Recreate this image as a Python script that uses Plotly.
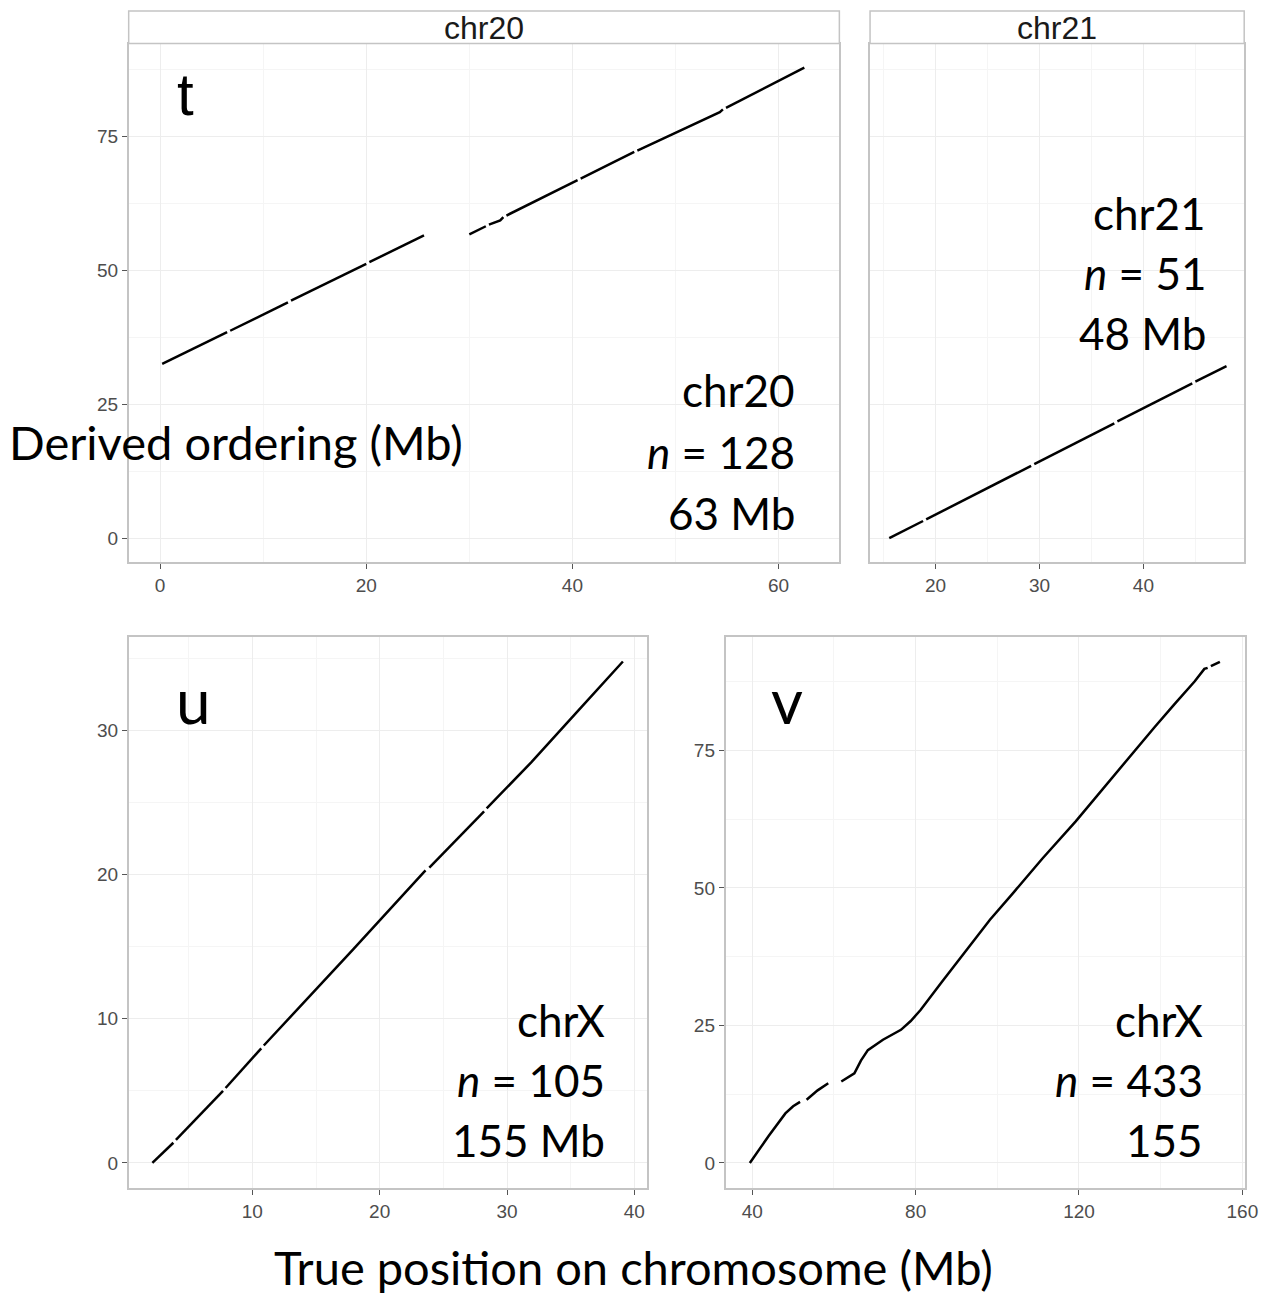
import plotly.graph_objects as go

W, H = 1277, 1295

# ---- data (Mb); None marks a break between ordered blocks ----
chr20_true = [0.2, 6.5, None, 6.8, 12.4, None, 12.7, 20.0, None, 20.3, 25.6, None,
              30.0, 31.6, None, 31.9, 33.0, 33.3, None, 33.6, 40.5, None, 40.8, 46.0,
              None, 46.3, 54.3, 54.6, None, 54.9, 62.5]
chr20_derived = [32.5, 38.45, None, 38.7, 44.0, None, 44.3, 51.2, None, 51.5, 56.5, None,
                 56.7, 58.2, None, 58.5, 59.3, 59.9, None, 60.2, 66.8, None, 67.1, 72.1,
                 None, 72.3, 79.5, 80.0, None, 80.3, 87.8]

chr21_true = [15.55, 18.8, None, 19.1, 29.2, None, 29.5, 37.2, None, 37.5, 44.7, None, 45.0, 48.0]
chr21_derived = [0.0, 3.2, None, 3.5, 13.5, None, 13.8, 21.4, None, 21.8, 28.9, None, 29.2, 32.1]

chrx_u_true = [2.15, 3.8, None, 4.0, 7.7, None, 7.9, 10.7, None, 10.9, 17.9, 23.6, None,
               23.9, 28.2, None, 28.4, 31.9, 35.5, 39.1]
chrx_u_derived = [0.0, 1.4, None, 1.6, 5.0, None, 5.2, 7.95, None, 8.15, 14.8, 20.3, None,
                  20.5, 24.4, None, 24.6, 27.8, 31.3, 34.8]

chrx_v_true = [39.4, 44.0, 48.1, 50.0, 51.7, None, 53.3, 56.0, 58.6, None, 61.8, 65.0, 66.6,
               68.3, 72.0, 76.4, 78.8, 81.2, 86.5, 92.5, 98.2, 103.8, 111.0, 119.2, 128.5,
               138.6, 143.5, 148.3, 150.7, 151.5, None, 152.3, 154.5]
chrx_v_derived = [0.0, 4.9, 9.0, 10.3, 11.1, None, 11.5, 13.2, 14.5, None, 14.8, 16.3, 18.6,
                  20.5, 22.4, 24.2, 25.8, 27.8, 33.0, 38.7, 44.2, 49.0, 55.3, 62.1, 70.4,
                  79.3, 83.5, 87.5, 89.8, 90.0, None, 90.3, 91.1]

panel_letters = ["t", "u", "v"]
strip_labels = ["chr20", "chr21"]
info_chr20 = ["chr20", "<i>n</i> = 128", "63 Mb"]
info_chr21 = ["chr21", "<i>n</i> = 51", "48 Mb"]
info_u = ["chrX", "<i>n</i> = 105", "155 Mb"]
info_v = ["chrX", "<i>n</i> = 433", "155"]

x_label = "True position on chromosome (Mb)"
y_label = "Derived ordering (Mb)"


def px(x):
    return x / W


def py(y):
    return 1 - y / H


BIG_FONT = "Lato, 'Open Sans', sans-serif"
AX_FONT = "'Liberation Sans', Arial, sans-serif"
GRID = "#EDEDED"
MINOR = "#F5F5F5"
BORDER = "#C4C4C4"

fig = go.Figure()
line_style = dict(color="black", width=2.5)
for (xs, ys, xa, ya) in [
    (chr20_true, chr20_derived, "x", "y"),
    (chr21_true, chr21_derived, "x2", "y2"),
    (chrx_u_true, chrx_u_derived, "x3", "y3"),
    (chrx_v_true, chrx_v_derived, "x4", "y4"),
]:
    fig.add_trace(go.Scatter(x=xs, y=ys, xaxis=xa, yaxis=ya, mode="lines",
                             line=line_style, connectgaps=False, showlegend=False,
                             hoverinfo="skip"))


def axis(domain, rng, tickvals, minor_vals, show_labels=True, anchor=None):
    return dict(
        domain=domain, range=rng, tickvals=tickvals, ticktext=[str(v) for v in tickvals],
        showticklabels=show_labels, ticks="outside" if show_labels else "",
        ticklen=5, tickwidth=1.2, tickcolor="#555555",
        tickfont=dict(family=AX_FONT, size=19, color="#4D4D4D"),
        showgrid=True, gridcolor=GRID, gridwidth=1.3,
        minor=dict(tickvals=minor_vals, showgrid=True, gridcolor=MINOR, gridwidth=0.8, ticks=""),
        showline=True, linecolor=BORDER, linewidth=1.5, mirror=True,
        zeroline=False, anchor=anchor, fixedrange=True,
    )


top_y = [py(562), py(43.5)]
bot_y = [py(1188), py(637)]

fig.update_layout(
    width=W, height=H, autosize=False, margin=dict(l=0, r=0, t=0, b=0),
    paper_bgcolor="white", plot_bgcolor="white",
    xaxis=axis([px(130), px(848)], [-3.05, 65.9], [0, 20, 40, 60], [10, 30, 50], anchor="y"),
    yaxis=axis(top_y, [-4.45, 92.3], [0, 25, 50, 75], [12.5, 37.5, 62.5, 87.5], anchor="x"),
    xaxis2=axis([px(879), px(1257)], [13.7, 49.7], [20, 30, 40], [15, 25, 35, 45], anchor="y2"),
    yaxis2=axis(top_y, [-4.45, 92.3], [0, 25, 50, 75], [12.5, 37.5, 62.5, 87.5],
                show_labels=False, anchor="x2"),
    xaxis3=axis([px(130), px(653.5)], [0.29, 40.98], [10, 20, 30, 40], [5, 15, 25, 35], anchor="y3"),
    yaxis3=axis(bot_y, [-1.74, 36.5], [0, 10, 20, 30], [5, 15, 25, 35], anchor="x3"),
    xaxis4=axis([px(733), px(1258)], [33.45, 160.7], [40, 80, 120, 160], [60, 100, 140], anchor="y4"),
    yaxis4=axis(bot_y, [-4.55, 95.6], [0, 25, 50, 75], [12.5, 37.5, 62.5, 87.5], anchor="x4"),
)

# facet strips
shapes = []
annotations = []
for (x0, x1), label in zip([(130, 848), (879, 1257)], strip_labels):
    shapes.append(dict(type="rect", xref="paper", yref="paper",
                       x0=px(x0), x1=px(x1), y0=py(43.5), y1=py(11),
                       fillcolor="white", line=dict(color=BORDER, width=1.5), layer="above"))
    annotations.append(dict(text=label, xref="paper", yref="paper",
                            x=px((x0 + x1) / 2), y=py(28), xanchor="center", yanchor="middle",
                            showarrow=False, font=dict(family=AX_FONT, size=32, color="#1A1A1A")))

# panel letters
for letter, (lx, ly), fam, size in zip(panel_letters,
                                       [(187, 95), (195, 700), (795, 700)],
                                       [AX_FONT, BIG_FONT, BIG_FONT],
                                       [60, 62, 62]):
    annotations.append(dict(text=letter, xref="paper", yref="paper", x=px(lx), y=py(ly),
                            xanchor="center", yanchor="middle", showarrow=False,
                            font=dict(family=fam, size=size, color="black")))

# chromosome summaries
for lines, right, ys in [
    (info_chr20, 805, [390, 452, 513]),
    (info_chr21, 1220, [213, 273, 333]),
    (info_u, 613, [1020, 1080, 1140]),
    (info_v, 1217, [1020, 1080, 1140]),
]:
    for txt, yy in zip(lines, ys):
        annotations.append(dict(text=txt, xref="paper", yref="paper", x=px(right), y=py(yy),
                                xanchor="right", yanchor="middle", showarrow=False,
                                font=dict(family=BIG_FONT, size=44, color="black")))

# shared axis titles
annotations.append(dict(text=y_label, xref="paper", yref="paper", x=px(238), y=py(442),
                        xanchor="center", yanchor="middle", showarrow=False,
                        font=dict(family=BIG_FONT, size=47, color="black")))
annotations.append(dict(text=x_label, xref="paper", yref="paper", x=px(640), y=py(1267),
                        xanchor="center", yanchor="middle", showarrow=False,
                        font=dict(family=BIG_FONT, size=47, color="black")))

fig.update_layout(shapes=shapes, annotations=annotations)
fig.write_html("out.html", config={"responsive": False})
